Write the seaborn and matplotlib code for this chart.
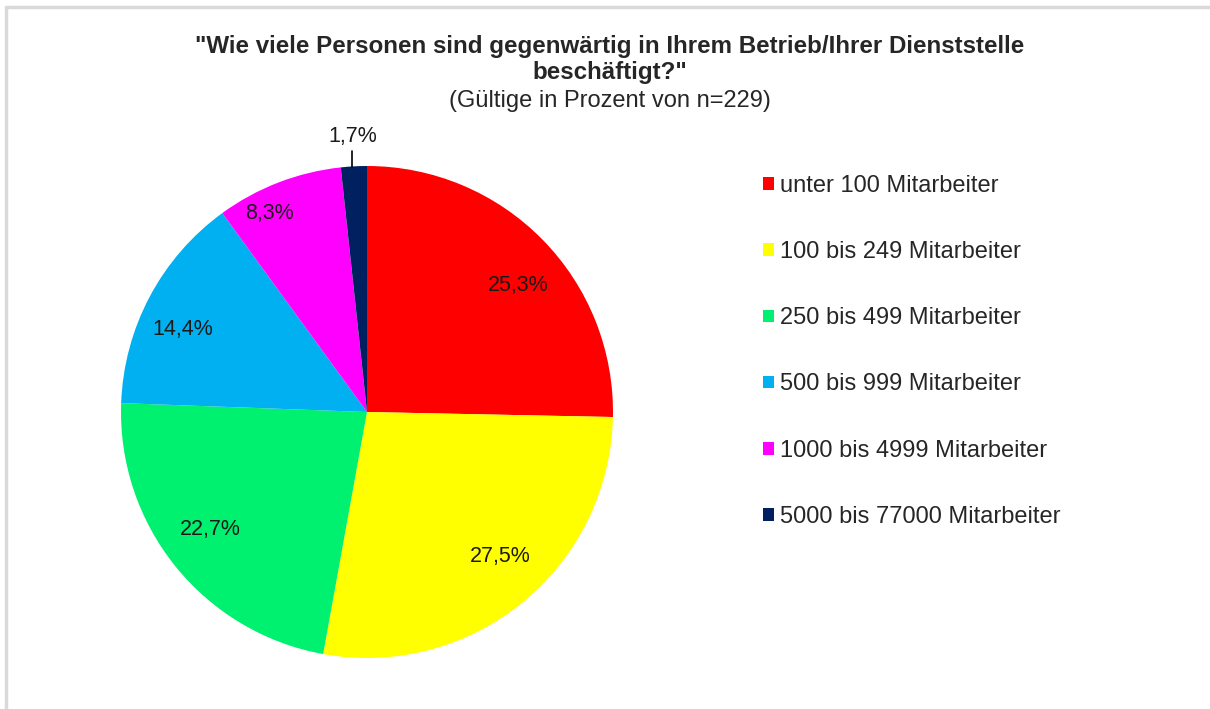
import numpy as np
import matplotlib.pyplot as plt
import seaborn as sns
from matplotlib.lines import Line2D

categories = ["unter 100 Mitarbeiter", "100 bis 249 Mitarbeiter", "250 bis 499 Mitarbeiter",
              "500 bis 999 Mitarbeiter", "1000 bis 4999 Mitarbeiter", "5000 bis 77000 Mitarbeiter"]
shares = [25.3, 27.5, 22.7, 14.4, 8.3, 1.7]
colors = ["#FF0000", "#FFFF00", "#00F070", "#00B0F0", "#FF00FF", "#002060"]
# label placement: distance in radii and angular nudge in degrees
label_dist = [0.80, 0.80, 0.795, 0.82, 0.90, 1.12]
label_shift = [-4.5, 3.5, -2, 4, 5, 0]

sns.set_style("white")
plt.rcParams['font.family'] = ['Liberation Sans', 'DejaVu Sans']

fig = plt.figure(figsize=(12.1, 7.09), dpi=100)
ax = fig.add_axes([121/1210, 51/709, 492/1210, 492/709])

wedges, _ = ax.pie(shares, colors=colors, startangle=90, counterclock=False,
                   wedgeprops=dict(linewidth=0), normalize=True)
ax.set_xlim(-1, 1)
ax.set_ylim(-1, 1)
ax.set_aspect('equal')
ax.axis('off')

for w, v, d, s in zip(wedges, shares, label_dist, label_shift):
    ang = np.deg2rad((w.theta1 + w.theta2) / 2 + s)
    x, y = d * np.cos(ang), d * np.sin(ang)
    ax.text(x, y, f"{v:.1f}%".replace(".", ","), ha='center', va='center',
            fontsize=15.5, color='#1a1a1a', clip_on=False)
    if d > 1:
        ax.plot([x, x], [0.995, 1.06], color='black', lw=1.2, clip_on=False)

fig.text(0.504, 1 - 46/709, '"Wie viele Personen sind gegenwärtig in Ihrem Betrieb/Ihrer Dienststelle',
         ha='center', va='center', fontsize=17.4, fontweight='bold')
fig.text(0.504, 1 - 73/709, 'beschäftigt?"', ha='center', va='center', fontsize=17.4, fontweight='bold')
fig.text(0.504, 1 - 101/709, '(Gültige in Prozent von n=229)', ha='center', va='center', fontsize=17)

fig.legend(wedges, categories, loc='upper left', bbox_to_anchor=(763/1210, 1 - 175/709),
           frameon=False, fontsize=17, handlelength=0.45, handleheight=0.45,
           handletextpad=0.25, labelspacing=1.87, borderpad=0, borderaxespad=0)

# light frame lines at top and left like the source export
fig.add_artist(Line2D([6/1210, 1], [1 - 7/709, 1 - 7/709], color='#d9d9d9', lw=2.5))
fig.add_artist(Line2D([6/1210, 6/1210], [0, 1 - 7/709], color='#d9d9d9', lw=2.5))

fig.savefig("out.png", dpi=100, facecolor='white')
